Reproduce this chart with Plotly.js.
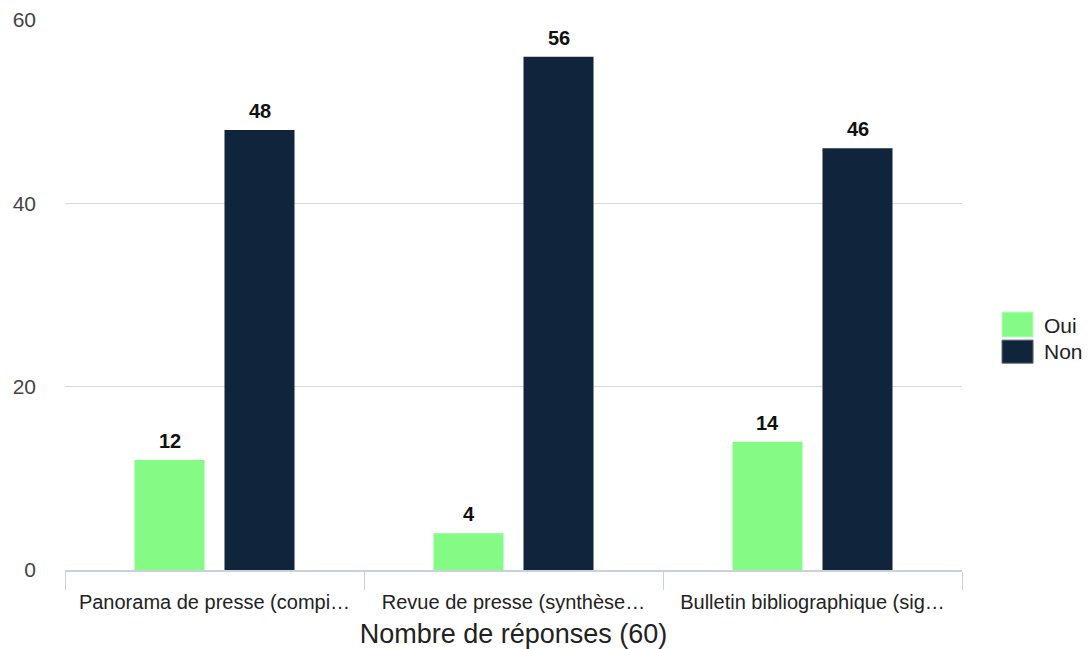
<!DOCTYPE html>
<html><head><meta charset="utf-8">
<script src="https://cdn.plot.ly/plotly-3.0.1.min.js"></script>
<style>html,body{margin:0;padding:0;background:#fff}#chart{width:1091px;height:649px}</style>
</head><body><div id="chart"></div>
<script>
const categories = ["Panorama de presse (compi…", "Revue de presse (synthèse…", "Bulletin bibliographique (sig…"];
const seriesNames = ["Oui", "Non"];
const ouiValues = [12, 4, 14];
const nonValues = [48, 56, 46];
const yTicks = [0, 20, 40, 60];
const xTitle = "Nombre de réponses (60)";

const colors = ["#84fb84", "#10243c"];
const font = "Liberation Sans, Arial, sans-serif";

const traces = [ouiValues, nonValues].map((vals, i) => ({
  type: "bar", name: seriesNames[i], x: categories, y: vals,
  marker: {color: colors[i], line: {width: 0}},
  showlegend: false, hoverinfo: "none"
}));

const annotations = [];
[ouiValues, nonValues].forEach((vals, i) => {
  vals.forEach((v, j) => {
    annotations.push({x: categories[j], y: v, xref: "x", yref: "y", text: "<b>" + v + "</b>",
      showarrow: false, yanchor: "bottom", xshift: i === 0 ? -45 : 45, yshift: 6,
      font: {family: font, size: 20, color: "#111"}});
  });
});
// custom legend (swatches + labels)
const shapes = [];
const swatchTop = [0.469, 0.418], swatchBot = [0.4236, 0.376], labelY = [0.4445, 0.398];
seriesNames.forEach((n, i) => {
  shapes.push({type: "rect", xref: "paper", yref: "paper", x0: 1.0446, x1: 1.0792,
    y0: swatchBot[i], y1: swatchTop[i], fillcolor: colors[i], line: {width: 1, color: i === 0 ? "#c8f5c8" : "#5a6a7a"}});
  annotations.push({xref: "paper", yref: "paper", x: 1.089, y: labelY[i], xanchor: "left", yanchor: "middle",
    text: n, showarrow: false, font: {family: font, size: 21, color: "#222"}});
});

const layout = {
  width: 1091, height: 649,
  margin: {l: 65, r: 129, t: 20, b: 79},
  paper_bgcolor: "#fff", plot_bgcolor: "#fff",
  barmode: "group", bargap: 0.398, bargroupgap: 0.222,
  font: {family: font},
  xaxis: {
    type: "category", tickson: "boundaries", ticks: "outside", ticklen: 18, tickcolor: "#c8d2dc",
    showline: true, linecolor: "#c8d2dc", linewidth: 2, showgrid: false, ticklabelstandoff: 13,
    tickfont: {family: font, size: 20, color: "#222"},
    title: {text: xTitle, font: {family: font, size: 27, color: "#222"}, standoff: 13}
  },
  yaxis: {
    range: [0, 60], tickvals: yTicks, ticktext: yTicks.map(String),
    showgrid: true, gridcolor: "#d9d9d9", gridwidth: 1.5, zeroline: false,
    ticks: "", ticklabelstandoff: 28,
    tickfont: {family: font, size: 21, color: "#444"}
  },
  shapes: shapes, annotations: annotations
};
Plotly.newPlot("chart", traces, layout, {displayModeBar: false, staticPlot: true});
</script></body></html>
